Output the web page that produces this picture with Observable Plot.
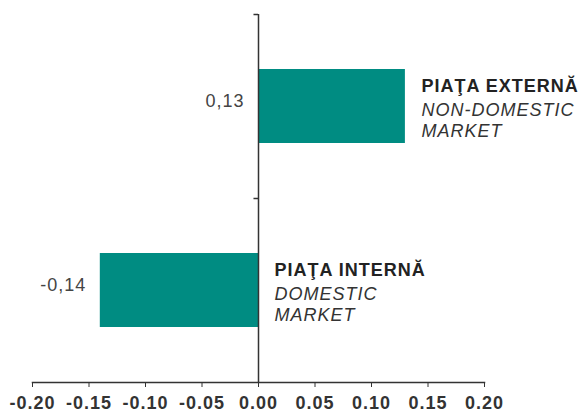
<!DOCTYPE html>
<html>
<head>
<meta charset="utf-8">
<script src="https://cdn.jsdelivr.net/npm/d3@7"></script>
<script src="https://cdn.jsdelivr.net/npm/@observablehq/plot@0.6"></script>
<style>
  html, body { margin: 0; padding: 0; background: #fff; }
  svg text { letter-spacing: 1px; }
  g[aria-label="x-axis tick-label"] text { letter-spacing: 0.3px; }
</style>
</head>
<body>
<div id="chart"></div>
<script>
const categories = ["PIAŢA EXTERNĂ", "PIAŢA INTERNĂ"];
const englishLabels = ["NON-DOMESTIC\nMARKET", "DOMESTIC\nMARKET"];
const values = [0.13, -0.14];
const valueLabels = ["0,13", "-0,14"];
const xTicks = [-0.20, -0.15, -0.10, -0.05, 0.00, 0.05, 0.10, 0.15, 0.20];

const data = categories.map((c, i) => ({cat: c, en: englishLabels[i], value: values[i], label: valueLabels[i]}));

const chart = Plot.plot({
  width: 585,
  height: 414,
  marginLeft: 32,
  marginRight: 101,
  marginTop: 14,
  marginBottom: 32,
  style: {fontFamily: "'Liberation Sans', Arial, sans-serif", background: "#fff"},
  x: {domain: [-0.2, 0.2]},
  y: {domain: categories, paddingInner: 0.6, paddingOuter: 0.3, axis: null},
  marks: [
    Plot.barX(data, {y: "cat", x: "value", fill: "#008c82"}),
    Plot.ruleX([0], {stroke: "#333", strokeWidth: 1.5}),
    Plot.frame({anchor: "bottom", stroke: "#333", strokeWidth: 1.5}),
    Plot.ruleY(data, {y: "cat", x1: 0, x2: -0.004, dy: -92, stroke: "#333", strokeWidth: 1.5}),
    Plot.axisX({ticks: xTicks, tickSize: 5, tickPadding: 9, tickFormat: d => d.toFixed(2),
      fontSize: 18, fontWeight: "bold", fill: "#333", stroke: "#333", label: null}),
    Plot.text(data, {x: d => Math.min(0, d.value), y: "cat", text: "label", textAnchor: "end",
      dx: -14, dy: -5, fontSize: 18, fill: "#444"}),
    Plot.text(data, {x: d => Math.max(0, d.value), y: "cat", text: "cat", textAnchor: "start",
      dx: 16, dy: -20, fontSize: 18, fontWeight: "bold", fill: "#222"}),
    Plot.text(data, {x: d => Math.max(0, d.value), y: "cat", text: "en", textAnchor: "start",
      dx: 16, dy: 13, lineHeight: 1.2, fontSize: 18, fontStyle: "italic", fill: "#333"})
  ]
});
document.getElementById("chart").append(chart);
</script>
</body>
</html>
